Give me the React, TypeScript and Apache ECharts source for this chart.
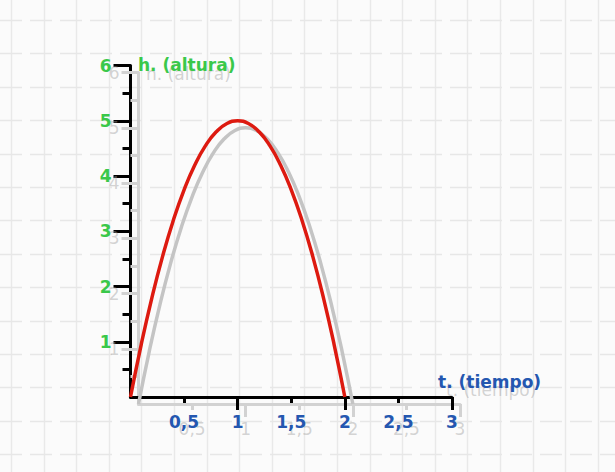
import React, { useEffect, useRef } from "react";
import * as echarts from "echarts";

// Data
const tValues = [0, 0.1, 0.2, 0.3, 0.4, 0.5, 0.6, 0.7, 0.8, 0.9, 1.0, 1.1, 1.2, 1.3, 1.4, 1.5, 1.6, 1.7, 1.8, 1.9, 2.0];
const hValues = [0, 0.95, 1.8, 2.55, 3.2, 3.75, 4.2, 4.55, 4.8, 4.95, 5.0, 4.95, 4.8, 4.55, 4.2, 3.75, 3.2, 2.55, 1.8, 0.95, 0];
const xMajorTicks = [1, 2, 3];
const xMinorTicks = [0.5, 1, 1.5, 2, 2.5, 3];
const xTickLabels = ["", "0,5", "1", "1,5", "2", "2,5", "3"];
const yMajorTicks = [1, 2, 3, 4, 5, 6];
const yMinorTicks = [0.5, 1.5, 2.5, 3.5, 4.5, 5.5];
const yTickLabels = ["", "1", "2", "3", "4", "5", "6"];
const yTitle = "h. (altura)";
const xTitle = "t. (tiempo)";

const GREEN = "#3ac84a";
const BLUE = "#2457b0";
const RED = "#dd1a10";
const GHOST = "#d2d2d2";
const GHOST_TEXT = "rgba(160,160,160,0.45)";
const FONT = "DejaVu Sans";

export default function App() {
  const ref = useRef<HTMLDivElement>(null);
  useEffect(() => {
    if (!ref.current) return;
    const chart = echarts.init(ref.current, null, { renderer: "svg" });
    const points = tValues.map((t, i) => [t, hValues[i]]);

    const mainGrid = { left: 130.5, top: 65.5, width: 321.5, height: 331.5 };
    const ghostGrid = { left: 138.5, top: 72.5, width: 321.5, height: 331.5 };

    const bg: any[] = [];
    for (let k = 0; k < 19; k++) {
      const x = Math.round(11 + 32.6 * k) + 0.5;
      bg.push({
        type: "line", z: -10, silent: true,
        shape: { x1: x, y1: 0, x2: x, y2: 472 },
        style: { stroke: "#e9e9e9", lineWidth: 1.5 },
      });
    }
    for (let k = 0; k < 14; k++) {
      const y = Math.round(20 + 33.4 * k) + 0.5;
      bg.push({
        type: "line", z: -10, silent: true,
        shape: { x1: 0, y1: y, x2: 615, y2: y },
        style: { stroke: "#e7e7e7", lineWidth: 1.5, lineDash: [22, 8] },
      });
    }

    const xLabelFmt = (v: number) => xTickLabels[Math.round(v * 2)] ?? "";
    const yLabelFmt = (v: number) => yTickLabels[Math.round(v)] ?? "";

    const mkX = (grid: number, ghost: boolean, major: boolean) => ({
      type: "value",
      gridIndex: grid,
      position: "bottom",
      min: 0,
      max: 3,
      interval: 0.5,
      axisLine: { show: !major, onZero: false, lineStyle: { color: ghost ? GHOST : "#000", width: 3 } },
      axisTick: {
        show: true,
        customValues: major ? xMajorTicks : xMinorTicks,
        length: major ? 13 : 6,
        lineStyle: { color: ghost ? GHOST : "#000", width: 3 },
      },
      axisLabel: {
        show: !major,
        formatter: xLabelFmt,
        margin: 16,
        color: ghost ? GHOST_TEXT : BLUE,
        fontFamily: FONT,
        fontWeight: ghost ? "normal" : "bold",
        fontSize: 17,
      },
      splitLine: { show: false },
    });

    const mkY = (grid: number, ghost: boolean, major: boolean) => ({
      type: "value",
      gridIndex: grid,
      position: "left",
      min: 0,
      max: 6,
      interval: 1,
      axisLine: { show: major, onZero: false, lineStyle: { color: ghost ? GHOST : "#000", width: 3 } },
      axisTick: {
        show: true,
        customValues: major ? yMajorTicks : yMinorTicks,
        length: major ? 17 : 8,
        lineStyle: { color: ghost ? GHOST : "#000", width: 3 },
      },
      axisLabel: {
        show: major,
        formatter: yLabelFmt,
        margin: 19,
        color: ghost ? GHOST_TEXT : GREEN,
        fontFamily: FONT,
        fontWeight: ghost ? "normal" : "bold",
        fontSize: 17,
      },
      splitLine: { show: false },
    });

    chart.setOption({
      animation: false,
      backgroundColor: "#fbfbfb",
      grid: [ghostGrid, mainGrid],
      xAxis: [mkX(0, true, false), mkX(0, true, true), mkX(1, false, false), mkX(1, false, true)],
      yAxis: [mkY(0, true, true), mkY(0, true, false), mkY(1, false, true), mkY(1, false, false)],
      series: [
        {
          type: "line",
          xAxisIndex: 0,
          yAxisIndex: 0,
          data: points,
          smooth: true,
          showSymbol: false,
          lineStyle: { color: "#c4c4c4", width: 3.5 },
          z: 2,
        },
        {
          type: "line",
          xAxisIndex: 2,
          yAxisIndex: 2,
          data: points,
          smooth: true,
          showSymbol: false,
          lineStyle: { color: RED, width: 3.5 },
          z: 5,
        },
      ],
      graphic: [
        ...bg,
        {
          type: "text", z: 1, left: 146, top: 65,
          style: { text: yTitle, fill: GHOST_TEXT, font: `17px "${FONT}"` },
        },
        {
          type: "text", z: 1, left: 446, top: 381,
          style: { text: xTitle, fill: GHOST_TEXT, font: `17px "${FONT}"` },
        },
        {
          type: "text", z: 10, left: 138, top: 56,
          style: { text: yTitle, fill: GREEN, font: `bold 17px "${FONT}"` },
        },
        {
          type: "text", z: 10, left: 438, top: 373,
          style: { text: xTitle, fill: BLUE, font: `bold 17px "${FONT}"` },
        },
      ],
    });
    return () => chart.dispose();
  }, []);
  return <div ref={ref} style={{ position: "fixed", left: 0, top: 0, width: 615, height: 472 }} />;
}
